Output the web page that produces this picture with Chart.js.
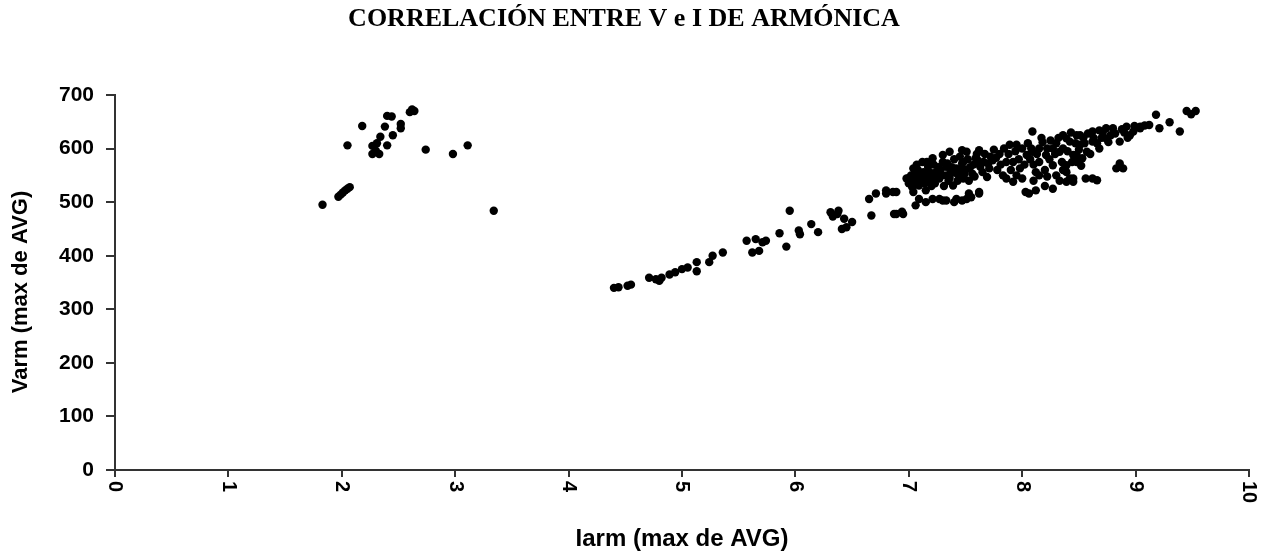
<!DOCTYPE html>
<html>
<head>
<meta charset="utf-8">
<script src="https://cdn.jsdelivr.net/npm/chart.js@4/dist/chart.umd.min.js"></script>
<style>
  body { margin: 0; background: #fff; }
  canvas { display: block; }
</style>
</head>
<body>
<canvas id="chart" width="1275" height="555"></canvas>
<script>
const chartTitle = 'CORRELACIÓN ENTRE V e I DE ARMÓNICA';
const xTitle = 'Iarm (max de AVG)';
const yTitle = 'Varm (max de AVG)';
const xTicks = [0, 1, 2, 3, 4, 5, 6, 7, 8, 9, 10];
const yTicks = [0, 100, 200, 300, 400, 500, 600, 700];

// Iarm values (x)
const iarm = [
  1.83, 1.97, 1.99, 2.01, 2.03, 2.05, 2.07, 2.05, 2.18, 2.27, 2.30, 2.33, 2.27, 2.31, 2.34, 2.38,
  2.45, 2.40, 2.40, 2.44, 2.52, 2.52, 2.60, 2.62, 2.64, 2.74, 2.98, 3.11, 3.34,
  4.40, 4.44, 4.52, 4.55, 4.71, 4.77, 4.80, 4.82, 4.89, 4.94, 5.00, 5.05, 5.13, 5.13, 5.24, 5.27,
  5.36, 5.57, 5.62, 5.65, 5.68, 5.71, 5.74, 5.86, 5.92, 5.95, 6.03, 6.04, 6.14, 6.20, 6.31, 6.33,
  6.37, 6.43, 6.45, 6.38, 6.50, 6.41, 6.65, 6.67, 6.71, 6.80, 6.80, 6.86, 6.89, 6.87, 6.89, 6.94, 6.95,
  6.98, 7.04, 7.12, 7.21, 7.30, 7.36, 7.51, 7.62, 7.59, 7.47, 7.47, 7.74, 7.86, 7.89, 7.95,
  7.06, 7.09, 7.15, 7.21, 7.27, 7.30, 7.33, 7.40, 7.42, 7.47, 7.51, 7.55, 7.53, 7.62, 7.62,
  7.09, 7.18, 7.27, 7.33, 7.39, 7.48, 7.56, 7.65, 7.71, 7.06, 7.15, 7.24, 7.33, 7.42, 7.48, 7.04, 7.15,
  7.00, 7.02, 7.08, 7.10, 7.13, 7.17, 7.20, 7.22, 7.25, 7.28, 7.30, 7.35, 7.37, 7.40, 7.44, 7.45,
  7.50, 7.53, 7.57, 7.60, 7.66, 7.69, 7.72, 7.78, 7.80, 7.83, 7.84,
  7.86, 7.92, 8.00, 8.12, 8.12, 8.03, 8.06, 8.27, 8.15, 8.27, 8.39, 8.45, 8.39, 8.48, 7.98, 7.92,
  8.04, 8.33, 8.09, 8.09, 8.15, 8.21, 8.27, 8.36, 8.42, 8.48, 8.15, 8.30, 8.45, 8.56, 8.62, 8.42,
  8.66, 8.83, 8.86, 8.89, 8.86, 8.51, 8.62, 8.68, 8.74, 8.80, 8.92, 9.04, 9.12, 9.21, 8.86, 8.74,
  8.62, 8.51, 8.45, 8.57, 8.68, 8.39, 8.53, 8.48, 8.39, 8.95, 9.04, 9.18, 9.30, 9.39, 9.45, 9.49, 9.53,
  8.00, 8.05, 8.10, 8.18, 8.20, 8.24, 8.30, 8.35, 8.55, 8.60, 8.70, 8.78, 8.90, 8.98, 8.20,
  7.00, 7.03, 7.05, 7.07, 7.11, 7.14, 7.16, 7.19, 7.21, 7.23, 7.26, 7.29, 7.31, 7.34, 7.36, 7.38,
  7.41, 7.43, 7.46, 7.49, 7.52, 7.54, 7.58, 7.61, 7.63, 7.67, 7.70, 7.75, 7.77, 7.81, 7.88, 7.90,
  7.94, 7.97, 8.02, 8.07, 8.08, 8.13, 8.17, 8.22, 8.25, 8.29, 8.32, 8.36, 8.40, 8.43, 8.47, 8.50,
  8.54, 8.58, 8.63, 8.66, 8.71, 8.76, 8.82, 8.88, 8.93, 8.99, 9.08, 8.22, 8.33, 8.10, 7.95, 8.36,
  8.44, 8.52
];

// Varm values (y)
const varm = [
  495, 510, 514, 518, 522, 525, 528, 606, 642, 590, 596, 590, 605, 610, 622, 641,
  625, 606, 661, 660, 638, 646, 668, 673, 670, 598, 590, 606, 484,
  340, 341, 344, 346, 359, 356, 353, 359, 365, 369, 375, 378, 388, 371, 388, 400,
  406, 428, 406, 431, 409, 425, 428, 442, 417, 484, 447, 440, 459, 444, 481, 473,
  478, 469, 453, 484, 463, 450, 506, 475, 516, 516, 522, 519, 519, 478, 478, 482, 478,
  544, 563, 575, 582, 588, 594, 594, 597, 582, 572, 597, 578, 575, 607, 607,
  494, 506, 500, 506, 506, 503, 503, 500, 506, 503, 506, 509, 516, 519, 516,
  531, 538, 544, 550, 531, 544, 553, 556, 563, 550, 547, 556, 566, 563, 575, 519, 522,
  535, 550, 560, 541, 556, 566, 530, 570, 549, 560, 575, 540, 556, 580, 550, 585,
  560, 540, 570, 590, 575, 547, 585, 560, 590, 550, 600,
  544, 538, 544, 556, 522, 519, 516, 525, 575, 569, 556, 544, 538, 588, 563, 575,
  588, 594, 632, 594, 600, 588, 600, 625, 613, 625, 550, 550, 538, 544, 544, 544,
  541, 563, 566, 563, 572, 625, 632, 634, 638, 638, 641, 641, 644, 638, 613, 619,
  613, 607, 588, 594, 600, 619, 582, 575, 569, 625, 638, 663, 649, 632, 670, 664, 670,
  600, 610, 570, 612, 560, 580, 610, 575, 610, 590, 620, 625, 630, 632, 530,
  545, 528, 540, 570, 550, 535, 575, 555, 545, 535, 565, 550, 530, 572, 545, 565,
  555, 540, 562, 552, 580, 565, 548, 578, 566, 590, 572, 598, 583, 570, 590, 560,
  595, 580, 570, 580, 600, 590, 620, 600, 615, 590, 620, 600, 595, 630, 610, 598,
  620, 628, 620, 610, 630, 612, 628, 636, 620, 642, 643, 548, 540, 540, 550, 560,
  575, 568
];

const points = iarm.map((x, i) => ({ x: x, y: varm[i] }));

const textPlugin = {
  id: 'textPlugin',
  afterDraw(chart) {
    const ctx = chart.ctx;
    const xScale = chart.scales.x;
    ctx.save();
    ctx.fillStyle = '#000';

    ctx.font = 'bold 26px "Liberation Serif"';
    ctx.textAlign = 'center';
    ctx.textBaseline = 'middle';
    ctx.fillText(chartTitle, 624, 19);

    // x tick labels, turned clockwise
    ctx.font = 'bold 20px "Liberation Sans"';
    xTicks.forEach(v => {
      ctx.save();
      ctx.translate(xScale.getPixelForValue(v), 481);
      ctx.rotate(Math.PI / 2);
      ctx.textAlign = 'left';
      ctx.textBaseline = 'middle';
      ctx.fillText(String(v), 0, 0);
      ctx.restore();
    });

    ctx.font = 'bold 24px "Liberation Sans"';
    ctx.textAlign = 'center';
    ctx.fillText(xTitle, 682, 539);

    ctx.save();
    ctx.font = 'bold 22px "Liberation Sans"';
    ctx.translate(21, 292);
    ctx.rotate(-Math.PI / 2);
    ctx.fillText(yTitle, 0, 0);
    ctx.restore();

    ctx.restore();
  }
};

new Chart(document.getElementById('chart'), {
  type: 'scatter',
  data: {
    datasets: [{
      data: points,
      backgroundColor: '#000',
      borderColor: '#000',
      borderWidth: 0,
      pointRadius: 4.2,
      pointHoverRadius: 4.2
    }]
  },
  options: {
    responsive: false,
    animation: false,
    devicePixelRatio: 1,
    layout: { padding: { top: 95, right: 26, left: 0, bottom: 0 } },
    plugins: {
      legend: { display: false },
      tooltip: { enabled: false }
    },
    scales: {
      x: {
        type: 'linear',
        min: 0,
        max: 10,
        afterBuildTicks: (scale) => { scale.ticks = xTicks.map(v => ({ value: v })); },
        ticks: { display: false },
        grid: { drawOnChartArea: false, color: '#333', lineWidth: 2, tickLength: 7 },
        border: { color: '#333', width: 2 },
        afterFit: (scale) => { scale.height = 85; }
      },
      y: {
        min: 0,
        max: 700,
        afterBuildTicks: (scale) => { scale.ticks = yTicks.map(v => ({ value: v })); },
        ticks: {
          color: '#000',
          padding: 12,
          font: { family: '"Liberation Sans"', size: 21, weight: 'bold' }
        },
        grid: { drawOnChartArea: false, color: '#333', lineWidth: 2, tickLength: 9 },
        border: { color: '#333', width: 2 },
        afterFit: (scale) => { scale.width = 115; }
      }
    }
  },
  plugins: [textPlugin]
});
</script>
</body>
</html>
